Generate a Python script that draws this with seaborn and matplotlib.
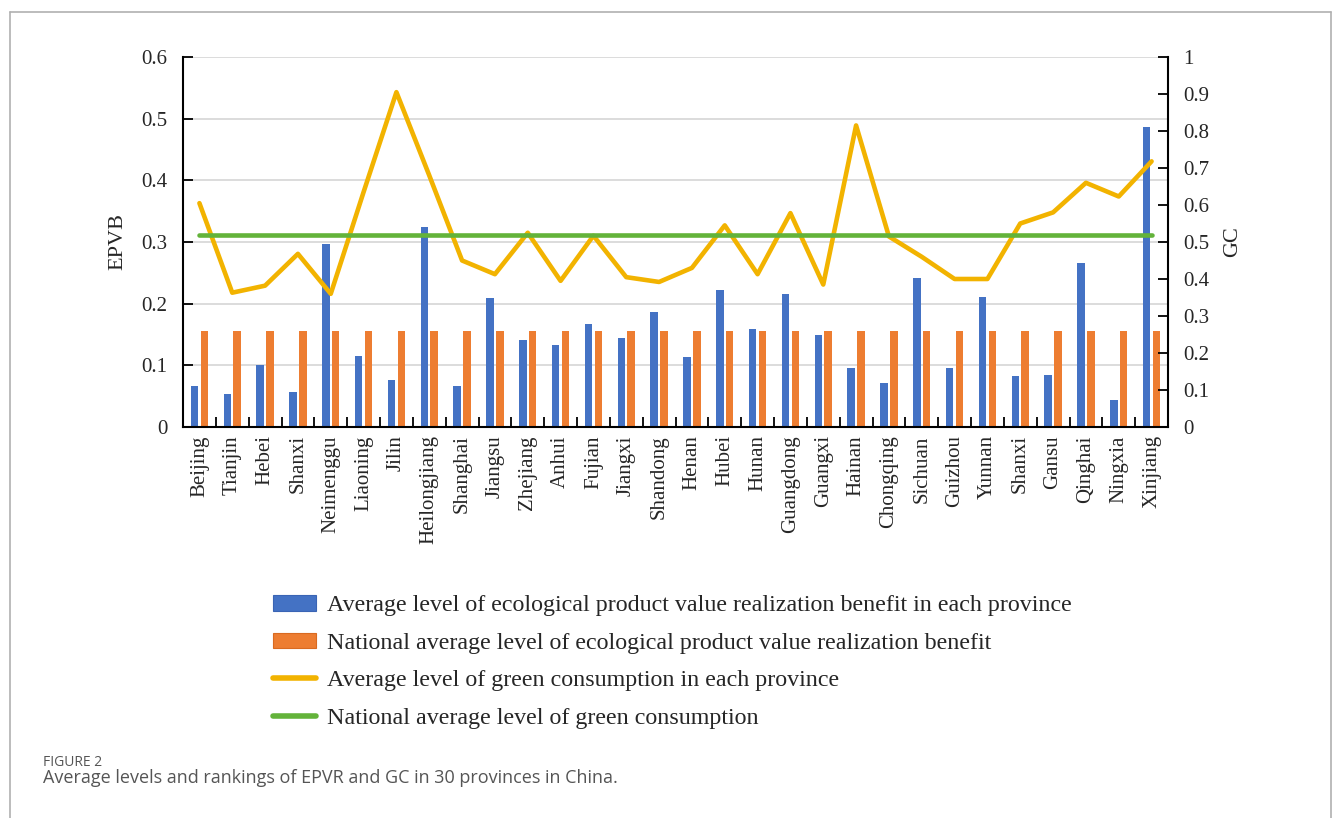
import numpy as np
import pandas as pd
import matplotlib
matplotlib.use("Agg")
import matplotlib.pyplot as plt
from matplotlib.patches import Patch
from matplotlib.lines import Line2D
from matplotlib.ticker import FixedLocator
import seaborn as sns

# ---------------- data ----------------
provinces = ["Beijing", "Tianjin", "Hebei", "Shanxi", "Neimenggu", "Liaoning", "Jilin",
             "Heilongjiang", "Shanghai", "Jiangsu", "Zhejiang", "Anhui", "Fujian", "Jiangxi",
             "Shandong", "Henan", "Hubei", "Hunan", "Guangdong", "Guangxi", "Hainan",
             "Chongqing", "Sichuan", "Guizhou", "Yunnan", "Shanxi", "Gansu", "Qinghai",
             "Ningxia", "Xinjiang"]
epvb = [0.066, 0.054, 0.101, 0.056, 0.296, 0.115, 0.077, 0.325, 0.067, 0.210,
        0.141, 0.133, 0.167, 0.144, 0.186, 0.113, 0.222, 0.159, 0.216, 0.149,
        0.095, 0.071, 0.242, 0.095, 0.211, 0.082, 0.084, 0.266, 0.043, 0.487]
epvb_national = [0.155] * len(provinces)
gc = [0.605, 0.363, 0.382, 0.468, 0.360, 0.635, 0.905, 0.680, 0.450, 0.413,
      0.525, 0.395, 0.517, 0.405, 0.392, 0.430, 0.545, 0.413, 0.578, 0.385,
      0.815, 0.515, 0.460, 0.400, 0.400, 0.550, 0.580, 0.660, 0.623, 0.718]
gc_national = [0.518] * len(provinces)

left_ticks = [0, 0.1, 0.2, 0.3, 0.4, 0.5, 0.6]
left_tick_labels = ["0", "0.1", "0.2", "0.3", "0.4", "0.5", "0.6"]
right_ticks = [0, 0.1, 0.2, 0.3, 0.4, 0.5, 0.6, 0.7, 0.8, 0.9, 1.0]
right_tick_labels = ["0", "0.1", "0.2", "0.3", "0.4", "0.5", "0.6", "0.7", "0.8", "0.9", "1"]

bar_labels = ["Average level of ecological product value realization benefit in each province",
              "National average level of ecological product value realization benefit"]
line_labels = ["Average level of green consumption in each province",
               "National average level of green consumption"]

BLUE = "#4472C4"
ORANGE = "#ED7D31"
YELLOW = "#F2B300"
GREEN = "#63B33A"

# ---------------- style ----------------
sns.set_theme(style="white")
plt.rcParams["font.family"] = ["Liberation Serif", "DejaVu Serif"]

fig = plt.figure(figsize=(13.33, 8.18), dpi=100)
ax = fig.add_axes([183 / 1333, 1 - 427 / 818, (1168 - 183) / 1333, (427 - 57) / 818])

pos = np.arange(len(provinces))
df = pd.DataFrame({
    "pos": np.concatenate([pos, pos]),
    "value": np.concatenate([epvb, epvb_national]),
    "series": [bar_labels[0]] * len(pos) + [bar_labels[1]] * len(pos),
})

sns.barplot(data=df, x="pos", y="value", hue="series", hue_order=bar_labels,
            palette=[BLUE, ORANGE], width=0.6, gap=0.25, legend=False,
            edgecolor=None, linewidth=0, saturation=1, ax=ax)

ax.set_xlim(-0.5, len(provinces) - 0.5)
ax.set_ylim(0, 0.6)
ax.set_yticks(left_ticks)
ax.set_yticklabels(left_tick_labels, fontsize=15)
ax.set_xticks(pos)
ax.set_xticklabels(provinces, rotation=90, fontsize=15)
ax.xaxis.set_minor_locator(FixedLocator(pos[:-1] + 0.5))
ax.tick_params(axis="x", which="major", length=0, pad=6)
ax.tick_params(axis="x", which="minor", direction="in", length=7, width=1.3, color="black", bottom=True)
ax.tick_params(axis="y", which="major", direction="in", length=7, width=1.3, color="black", pad=11, left=True)
ax.grid(axis="y", color="#d9d9d9", linewidth=1.3)
ax.grid(axis="x", visible=False)
ax.set_axisbelow(True)
ax.set_xlabel("")
ax.set_ylabel("EPVB", fontsize=16, labelpad=10)
for s in ["top", "right"]:
    ax.spines[s].set_visible(False)
for s in ["left", "bottom"]:
    ax.spines[s].set_color("black")
    ax.spines[s].set_linewidth(1.5)

ax2 = ax.twinx()
sns.lineplot(x=pos, y=gc, ax=ax2, color=YELLOW, linewidth=3.3, legend=False)
sns.lineplot(x=pos, y=gc_national, ax=ax2, color=GREEN, linewidth=3.3, legend=False)
ax2.set_ylim(0, 1)
ax2.set_yticks(right_ticks)
ax2.set_yticklabels(right_tick_labels, fontsize=15)
ax2.tick_params(axis="y", which="major", direction="in", length=7, width=1.3, color="black", pad=11, right=True)
ax2.set_ylabel("GC", fontsize=16, labelpad=10)
ax2.grid(False)
for s in ["top", "left", "bottom"]:
    ax2.spines[s].set_visible(False)
ax2.spines["right"].set_color("black")
ax2.spines["right"].set_linewidth(1.5)
ax2.set_xlim(-0.5, len(provinces) - 0.5)

# legend
handles = [Patch(facecolor=BLUE, edgecolor="#3a64b4", linewidth=0.8),
           Patch(facecolor=ORANGE, edgecolor="#d96a20", linewidth=0.8),
           Line2D([0], [0], color=YELLOW, linewidth=4, solid_capstyle="round"),
           Line2D([0], [0], color=GREEN, linewidth=4, solid_capstyle="round")]
fig.legend(handles, bar_labels + line_labels, loc="upper left",
           bbox_to_anchor=(273 / 1333, 1 - 595 / 818), frameon=False,
           fontsize=17.3, handlelength=1.8, handleheight=0.62, handletextpad=0.45,
           labelspacing=0.68, borderpad=0, borderaxespad=0)

# caption
fig.text(43 / 1333, 1 - 762 / 818, "FIGURE 2", fontsize=10, color="#555555",
         family=["Open Sans", "DejaVu Sans"], va="center", ha="left")
fig.text(43 / 1333, 1 - 778 / 818,
         "Average levels and rankings of EPVR and GC in 30 provinces in China.",
         fontsize=13, color="#555555", family=["Open Sans", "DejaVu Sans"],
         va="center", ha="left")

# frame around figure (left, top, right)
frame_kw = dict(transform=fig.transFigure, color="#b0b0b0", linewidth=1.2)
fig.add_artist(Line2D([10 / 1333, 10 / 1333], [0, 1 - 12 / 818], **frame_kw))
fig.add_artist(Line2D([10 / 1333, 1331 / 1333], [1 - 12 / 818, 1 - 12 / 818], **frame_kw))
fig.add_artist(Line2D([1331 / 1333, 1331 / 1333], [0, 1 - 12 / 818], **frame_kw))

fig.savefig("out.png", dpi=100)
